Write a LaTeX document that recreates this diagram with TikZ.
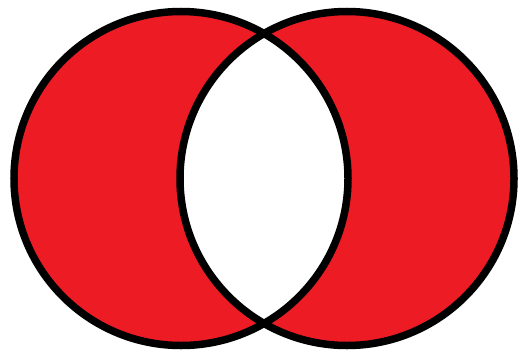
\documentclass[tikz,border=0pt]{standalone}
\definecolor{vennred}{HTML}{ED1C24}
\tikzset{setline/.style={draw=black,line width=7.5pt}}
\begin{document}
\begin{tikzpicture}[x=1pt,y=-1pt]
\useasboundingbox (0,0) rectangle (518,356);
\fill[white] (0,0) rectangle (518,356);
\coordinate (A) at (181,178.5);
\coordinate (B) at (347,178.5);
\fill[vennred,even odd rule] (A) circle (167) (B) circle (167);
\draw[setline] (A) circle (167);
\draw[setline] (B) circle (167);
\end{tikzpicture}
\end{document}
